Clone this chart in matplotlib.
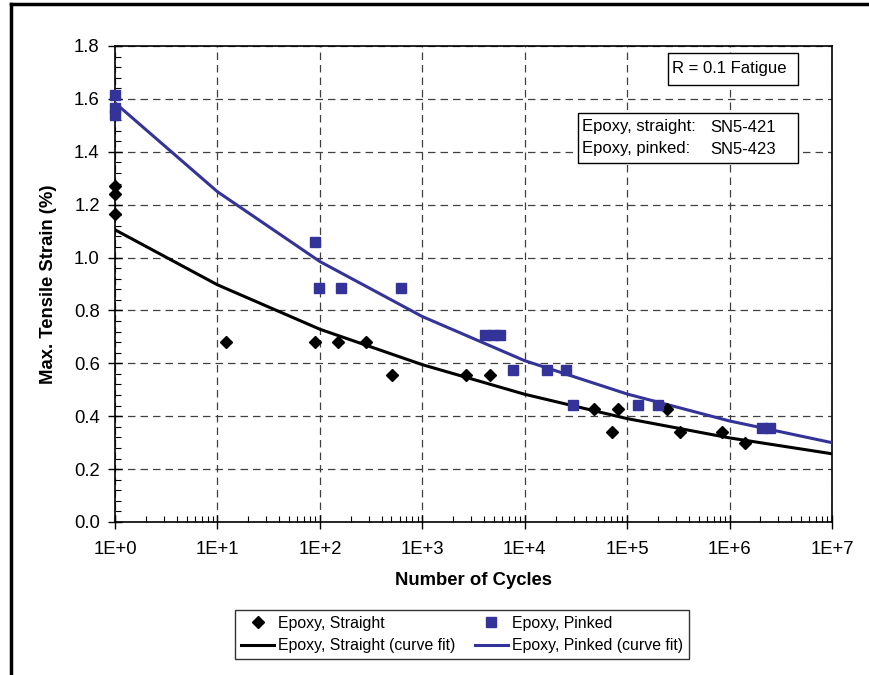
import numpy as np
import matplotlib
matplotlib.use("Agg")
import matplotlib.pyplot as plt
from matplotlib.lines import Line2D
from matplotlib.patches import Rectangle
from matplotlib.ticker import FixedLocator, MultipleLocator, LogLocator, NullFormatter

plt.rcParams['font.family'] = ['Liberation Sans', 'DejaVu Sans']

# Epoxy, straight (SN5-421) test points
straight_cycles = [1, 1, 1, 12, 90, 150, 283, 507, 2680, 4590, 47600, 71400,
                   81700, 245000, 330000, 850000, 1420000]
straight_strain = [1.27, 1.24, 1.165, 0.68, 0.68, 0.68, 0.68, 0.555, 0.555, 0.555,
                   0.427, 0.34, 0.427, 0.427, 0.34, 0.34, 0.30]

# Epoxy, pinked (SN5-423) test points
pinked_cycles = [1, 1, 1, 90, 98, 161, 621, 4100, 4900, 5760, 7770, 16400, 25100,
                 29900, 127000, 202000, 2080000, 2500000]
pinked_strain = [1.615, 1.565, 1.54, 1.06, 0.885, 0.885, 0.885, 0.707, 0.707, 0.707,
                 0.575, 0.575, 0.575, 0.443, 0.443, 0.443, 0.354, 0.354]

# curve fits, read at each decade
fit_cycles = [1, 1e1, 1e2, 1e3, 1e4, 1e5, 1e6, 1e7]
straight_fit = [1.105, 0.897, 0.729, 0.595, 0.483, 0.391, 0.318, 0.258]
pinked_fit = [1.585, 1.249, 0.985, 0.777, 0.610, 0.484, 0.382, 0.300]

x_ticks = [1, 1e1, 1e2, 1e3, 1e4, 1e5, 1e6, 1e7]
x_labels = ["1E+0", "1E+1", "1E+2", "1E+3", "1E+4", "1E+5", "1E+6", "1E+7"]

blue = "#333399"

fig = plt.figure(figsize=(8.69, 6.75), dpi=100)
W, H = 869.0, 675.0
ax = fig.add_axes([115 / W, 1 - 522 / H, (832 - 115) / W, (522 - 46) / H])

ax.plot(fit_cycles, straight_fit, color="black", lw=2.2, zorder=3)
ax.plot(fit_cycles, pinked_fit, color=blue, lw=2.2, zorder=3)
ax.plot(straight_cycles, straight_strain, ls="none", marker="D", ms=6.5,
        color="black", zorder=4, clip_on=False)
ax.plot(pinked_cycles, pinked_strain, ls="none", marker="s", ms=7.5,
        color=blue, zorder=4, clip_on=False)

ax.set_xscale("log")
ax.set_xlim(1, 1e7)
ax.set_ylim(0, 1.8)
ax.xaxis.set_major_locator(FixedLocator(x_ticks))
ax.set_xticklabels(x_labels)
ax.xaxis.set_minor_locator(LogLocator(base=10, subs=np.arange(2, 10)))
ax.xaxis.set_minor_formatter(NullFormatter())
ax.yaxis.set_major_locator(MultipleLocator(0.2))
ax.yaxis.set_minor_locator(MultipleLocator(0.04))
ax.yaxis.set_major_formatter(matplotlib.ticker.FormatStrFormatter("%.1f"))

ax.tick_params(which="major", direction="inout", length=10, width=1, labelsize=13.3,
               color="black", pad=6)
ax.tick_params(which="minor", direction="in", length=4.5, width=0.8)
ax.tick_params(axis="x", which="major", pad=9)
ax.grid(True, which="major", color="#404040", ls=(0, (6, 4)), lw=0.9)
for s in ax.spines.values():
    s.set_linewidth(1.2)

ax.set_xlabel("Number of Cycles", fontsize=13.3, fontweight="bold", labelpad=10)
ax.set_ylabel("Max. Tensile Strain (%)", fontsize=13.3, fontweight="bold", labelpad=12)

# annotation boxes (white fill hides the grid)
fig.add_artist(Rectangle((668 / W, 1 - 85 / H), 130 / W, 32 / H, transform=fig.transFigure,
                         fc="white", ec="black", lw=1))
fig.text(672 / W, 1 - 69 / H, "R = 0.1 Fatigue", fontsize=12, va="center")
fig.add_artist(Rectangle((578 / W, 1 - 163 / H), 220 / W, 50 / H, transform=fig.transFigure,
                         fc="white", ec="black", lw=1))
fig.text(582 / W, 1 - 127 / H, "Epoxy, straight:", fontsize=12, va="center")
fig.text(710 / W, 1 - 127 / H, "SN5-421", fontsize=12, va="center")
fig.text(582 / W, 1 - 149 / H, "Epoxy, pinked:", fontsize=12, va="center")
fig.text(710 / W, 1 - 149 / H, "SN5-423", fontsize=12, va="center")

handles = [
    Line2D([], [], ls="none", marker="D", ms=6, color="black"),
    Line2D([], [], color="black", lw=2.2),
    Line2D([], [], ls="none", marker="s", ms=7, color=blue),
    Line2D([], [], color=blue, lw=2.2),
]
labels = ["Epoxy, Straight", "Epoxy, Straight (curve fit)",
          "Epoxy, Pinked", "Epoxy, Pinked (curve fit)"]
leg = fig.legend(handles, labels, ncol=2, loc="center", bbox_to_anchor=(462 / W, 1 - 634.5 / H),
                 fontsize=11.4, frameon=True, fancybox=False, edgecolor="black",
                 handlelength=2.1, handletextpad=0.25, columnspacing=1.2,
                 labelspacing=0.45, borderpad=0.4)
leg.get_frame().set_linewidth(1)

# outer frame (partly cropped)
fig.add_artist(Line2D([11 / W, 11 / W], [0, 1 - 4 / H], color="black", lw=2.5,
                      transform=fig.transFigure))
fig.add_artist(Line2D([11 / W, 1], [1 - 4 / H, 1 - 4 / H], color="black", lw=2.5,
                      transform=fig.transFigure))

fig.savefig("out.png", dpi=100)
